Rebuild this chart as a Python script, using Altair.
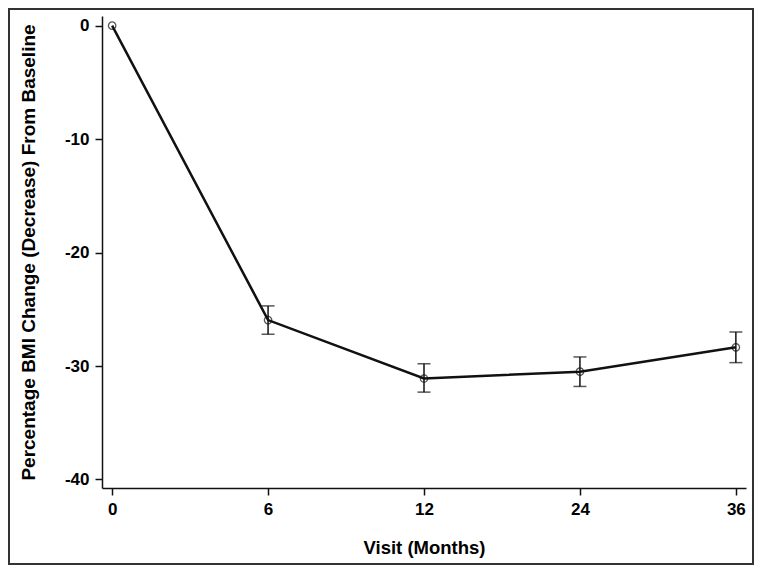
import altair as alt
import pandas as pd

visits = ["0", "6", "12", "24", "36"]
mean_change = [0.0, -25.95, -31.1, -30.5, -28.35]
ci_upper = [0.0, -24.7, -29.8, -29.2, -27.0]
ci_lower = [0.0, -27.2, -32.3, -31.8, -29.7]
y_ticks = [0, -10, -20, -30, -40]

df = pd.DataFrame({"visit": visits, "mean": mean_change, "hi": ci_upper, "lo": ci_lower})
eb = df[df["visit"] != "0"]

FONT = "Liberation Sans"
INK = "#111111"

x_enc = alt.X(
    "visit:O", sort=visits,
    scale=alt.Scale(type="point", padding=0.065),
    axis=alt.Axis(title="Visit (Months)", labelAngle=0, titleY=65, titleBaseline="alphabetic",
                  titleFontSize=18.5),
)
y_scale = alt.Scale(domain=[-40.75, 0.85], nice=False, zero=False)
y_enc = alt.Y(
    "mean:Q", scale=y_scale,
    axis=alt.Axis(title="Percentage BMI Change (Decrease) From Baseline", values=y_ticks,
                  labelExpr="'' + datum.value",
                  titleX=-67.5, titleBaseline="alphabetic", titleFontSize=19),
)

base = alt.Chart(df)
line = base.mark_line(color=INK, strokeWidth=2.5).encode(x=x_enc, y=y_enc)
pts = base.mark_point(shape="circle", filled=False, color=INK, size=55, strokeWidth=1.3).encode(
    x=alt.X("visit:O", sort=visits), y=alt.Y("mean:Q")
)
ebase = alt.Chart(eb)
rules = ebase.mark_rule(color=INK, strokeWidth=1.5).encode(
    x=alt.X("visit:O", sort=visits), y=alt.Y("hi:Q"), y2="lo:Q"
)
cap_hi = ebase.mark_tick(color=INK, thickness=1.5, size=13, orient="horizontal").encode(
    x=alt.X("visit:O", sort=visits), y=alt.Y("hi:Q")
)
cap_lo = ebase.mark_tick(color=INK, thickness=1.5, size=13, orient="horizontal").encode(
    x=alt.X("visit:O", sort=visits), y=alt.Y("lo:Q")
)
border = alt.Chart(alt.Data(values=[{"a": 1}])).mark_rect(
    fill=None, stroke="#333333", strokeWidth=2
).encode(x=alt.value(-93), x2=alt.value(651), y=alt.value(-7), y2=alt.value(548))

chart = alt.layer(line, rules, cap_hi, cap_lo, pts, border).properties(
    width=644, height=472,
    autosize=alt.AutoSizeParams(type="none"),
    padding={"left": 94, "top": 8, "right": 8, "bottom": 77},
).configure_view(stroke=None).configure_axis(
    domainColor=INK, domainWidth=1.5, tickColor=INK, tickWidth=1.5, tickSize=7,
    labelFont=FONT, labelFontSize=17, labelFontWeight="bold", labelColor="black", labelPadding=6,
    titleFont=FONT, titleFontWeight="bold", titleColor="black",
    grid=False,
)

chart.save("out.html", embed_options={"renderer": "svg", "actions": False})
